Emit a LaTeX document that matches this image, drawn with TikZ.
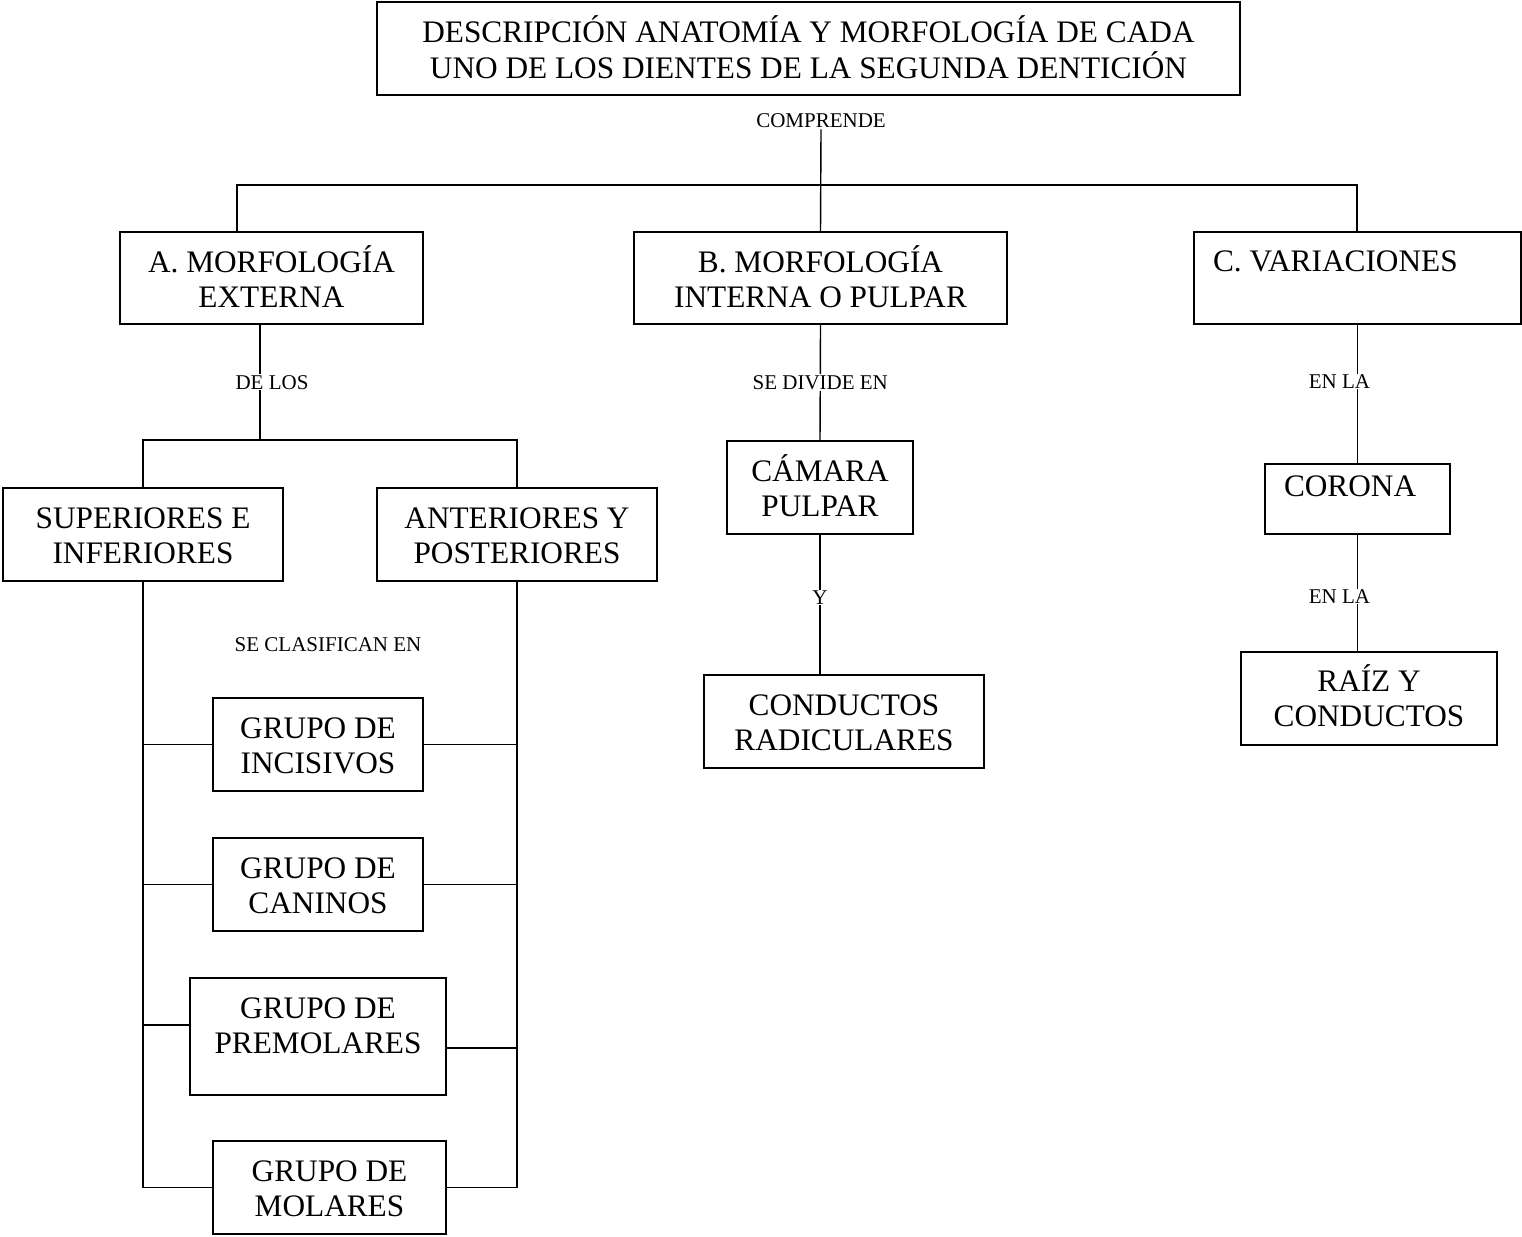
\documentclass[tikz,border=0pt]{standalone}
\usepackage{fontspec}
\setmainfont{Liberation Serif}
\usetikzlibrary{calc}
\newcommand\boxfont{\fontsize{31.3}{35.5}\selectfont}
\newcommand\tagfont{\fontsize{21}{25}\selectfont}
\tikzset{
  basebox/.style={draw,line width=1.6pt,align=center,font=\boxfont,inner xsep=2pt,inner ysep=0pt,text height=75.5pt},
  leftbox/.style={basebox,align=flush left,inner xsep=19pt},
  tag/.style={fill=white,font=\tagfont,inner sep=1pt},
  link/.style={line width=1.4pt}
}

\begin{document}
\begin{tikzpicture}[x=1pt,y=-1pt]
  \useasboundingbox (0,0) rectangle (1522,1236);
  \node[basebox,minimum width=863pt,text height=76.5pt,text depth=16.5pt] (title) at (808.5,48.5) {DESCRIPCIÓN ANATOMÍA Y MORFOLOGÍA DE CADA\\UNO DE LOS DIENTES DE LA SEGUNDA DENTICIÓN};

  \node[basebox,minimum width=303pt,text depth=16.5pt] (morfA) at (271.5,278) {A. MORFOLOGÍA\\EXTERNA};
  \node[basebox,minimum width=373pt,text depth=16.5pt] (morfB) at (820.5,278) {B. MORFOLOGÍA\\INTERNA O PULPAR};
  \node[leftbox,text width=289pt,text height=39pt,text depth=53pt] (varia) at (1357.5,278) {C. VARIACIONES};

  \node[basebox,minimum width=280pt,text depth=17.5pt] (sup) at (143,534.5) {SUPERIORES E\\INFERIORES};
  \node[basebox,minimum width=280pt,text depth=17.5pt] (ant) at (517,534.5) {ANTERIORES Y\\POSTERIORES};
  \node[basebox,minimum width=210pt,text depth=17.5pt] (incis) at (318,744.5) {GRUPO DE\\INCISIVOS};
  \node[basebox,minimum width=210pt,text depth=17.5pt] (canin) at (318,884.5) {GRUPO DE\\CANINOS};
  \node[basebox,minimum width=256pt,text depth=41.5pt] (premo) at (318,1036.5) {GRUPO DE\\PREMOLARES};
  \node[basebox,minimum width=233pt,text depth=17.5pt] (molar) at (329.5,1187.5) {GRUPO DE\\MOLARES};

  \node[basebox,minimum width=186pt,text depth=17.5pt] (camara) at (820,487.5) {CÁMARA\\PULPAR};
  \node[basebox,minimum width=280pt,text depth=17.5pt] (conduc) at (844,721.5) {CONDUCTOS\\RADICULARES};

  \node[leftbox,text width=147pt,text height=32pt,text depth=38pt] (corona) at (1357.5,499) {CORONA};
  \node[basebox,minimum width=256pt,text height=74.5pt,text depth=18.5pt] (raiz) at (1369,698.5) {RAÍZ Y\\CONDUCTOS};

  \node[tag] (comp) at (821,121) {COMPRENDE};
  \coordinate (barL) at (237,185);
  \coordinate (barR) at (1357,185);
  \draw[link] (comp.south) -- (morfB.north);
  \draw[link] (barL |- morfA.north) -- (barL) -- (barR) -- (barR |- varia.north);

  \coordinate (aJoin) at (260,440);
  \draw[link] (aJoin |- morfA.south) -- node[tag,xshift=12pt] {DE LOS} (aJoin);
  \draw[link] (sup.north) |- (aJoin) -| (ant.north);

  \node[tag] (clasif) at (328,645) {SE CLASIFICAN EN};
  \draw[link] (sup.south) -- (sup.south |- molar.west) -- (molar.west);
  \draw[link] (ant.south) -- (ant.south |- molar.east) -- (molar.east);
  \foreach \g in {incis,canin} {
    \draw[link] (\g.west) -- (\g.west -| sup.south);
    \draw[link] (\g.east) -- (\g.east -| ant.south);
  }
  \draw[link] ([yshift=11.5pt]premo.west) coordinate (pL) -- (pL -| sup.south);
  \draw[link] ([yshift=-11.5pt]premo.east) coordinate (pR) -- (pR -| ant.south);

  \draw[link] (morfB.south) -- node[tag] {SE DIVIDE EN} (camara.north);
  \draw[link] (camara.south) -- node[tag,pos=0.45] {Y} (camara.south |- conduc.north);

  \draw[link] (varia.south) -- node[tag,pos=0.41,xshift=-18pt] {EN LA} (corona.north);
  \draw[link] (corona.south) -- node[tag,pos=0.53,xshift=-18pt] {EN LA} (corona.south |- raiz.north);
\end{tikzpicture}
\end{document}
